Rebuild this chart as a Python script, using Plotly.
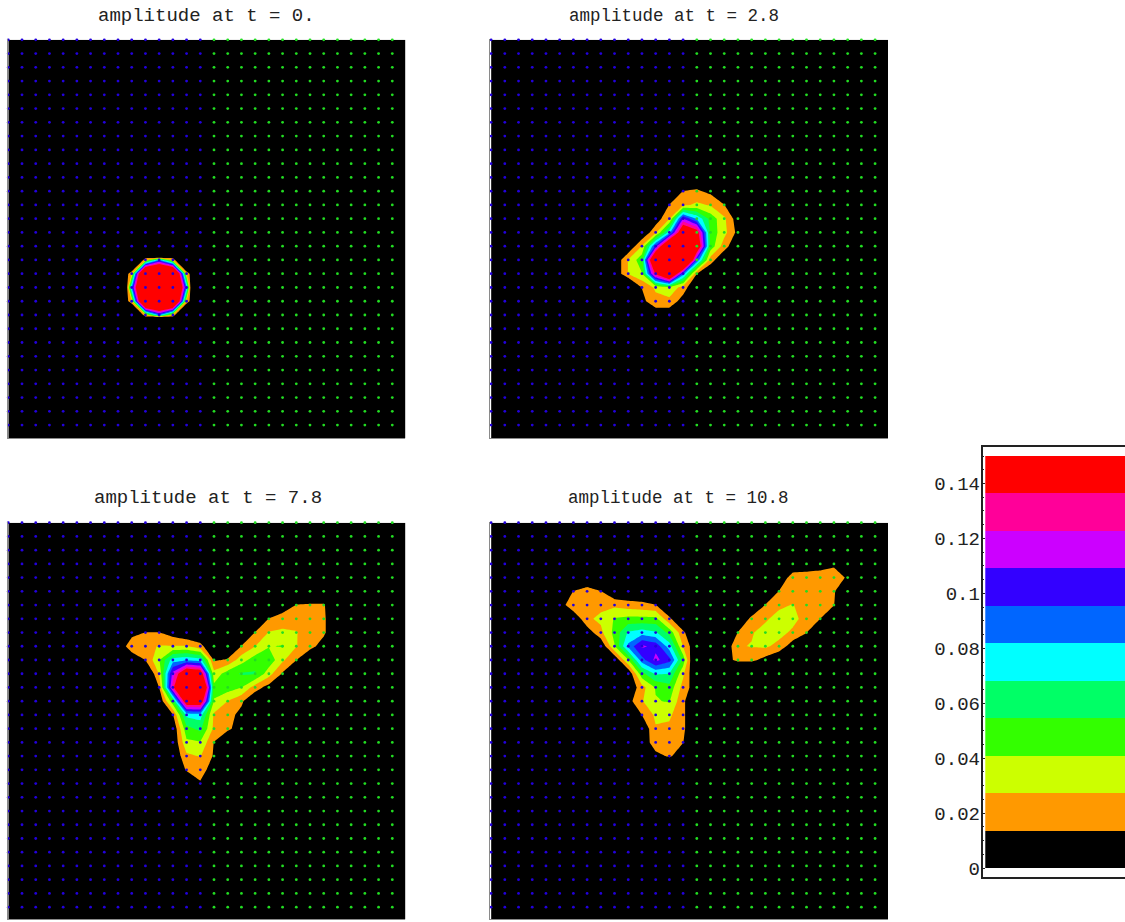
import numpy as np
import plotly.graph_objects as go

# grid
n_grid = 30
blue_cols = 15

# contour bands
band_colors = ["#000000", "#FF9900", "#CCFF00", "#33FF00", "#00FF66", "#00FFFF",
               "#0066FF", "#3300FF", "#CC00FF", "#FF0099", "#FF0000"]
z_top = 0.15
tick_vals = [0, 0.02, 0.04, 0.06, 0.08, 0.1, 0.12, 0.14]
tick_text = ["0", "0.02", "0.04", "0.06", "0.08", "0.1", "0.12", "0.14"]

titles = ["amplitude at t = 0.", "amplitude at t = 2.8", "amplitude at t = 7.8", "amplitude at t = 10.8"]

# amplitude patches: first column, first row, rows of values
t0_col, t0_row = 8, 15
t0_z = [
    [0, 0, -.07, -.36, -.07, 0, 0],
    [0, -.05, .026, .085, .026, -.05, 0],
    [-.023, .026, .24, .26, .24, .026, -.03],
    [-.13, .085, .26, .28, .26, .085, -.17],
    [-.023, .026, .24, .26, .24, .026, -.03],
    [0, -.05, .026, .085, .026, -.05, 0],
    [0, 0, -.08, -.39, -.08, 0, 0],
]

t1_col, t1_row = 8, 10
t1_z = [
    [0, 0, 0, 0, 0, 0, 0, 0, 0, 0, 0],
    [0, 0, 0, 0, 0, 0, .014, .016, .010, 0, 0],
    [0, 0, 0, 0, 0, .014, .024, .030, .026, .014, 0],
    [0, 0, 0, 0, .005, .026, .11, .08, .05, .03, .005],
    [0, 0, 0, 0, .024, .075, .17, .15, .05, .032, .009],
    [0, 0, 0, .028, .10, .20, .20, .17, .05, .02, 0],
    [0, 0, .028, .05, .20, .25, .25, .095, .02, 0, 0],
    [0, 0, .028, .04, .14, .20, .09, .014, 0, 0, 0],
    [0, 0, -.02, .014, .03, .04, .02, 0, 0, 0, 0],
    [0, 0, 0, .01, .022, .022, .008, 0, 0, 0, 0],
    [0, 0, 0, 0, .004, .004, 0, 0, 0, 0, 0],
]

t2_col, t2_row = 8, 5
t2_z = [
    [0, 0, 0, 0, 0, 0, 0, 0, 0, 0, 0, 0, 0, 0, 0, 0, 0],
    [0, 0, 0, 0, 0, 0, 0, 0, 0, 0, 0, 0, .005, .014, .015, .015, 0],
    [0, 0, 0, 0, 0, 0, 0, 0, 0, 0, 0, .014, .02, .022, .022, .016, 0],
    [0, .008, .014, .014, .007, 0, 0, 0, 0, 0, .014, .028, .03, .028, .02, .016, 0],
    [0, .024, .024, .028, .028, .028, .018, 0, 0, .014, .027, .04, .042, .028, .018, .008, 0],
    [0, 0, .0136, .04, .075, .08, .075, .012, .015, .035, .048, .05, .03, .014, 0, 0, 0],
    [0, 0, -.01, .028, .115, .17, .16, .032, .048, .056, .056, .033, .012, 0, 0, 0, 0],
    [0, 0, 0, .0136, .13, .22, .22, .045, .048, .041, .02, .008, 0, 0, 0, 0, 0],
    [0, 0, 0, 0, .05, .16, .16, .04, .027, .016, 0, 0, 0, 0, 0, 0, 0],
    [0, 0, 0, 0, .012, .072, .075, .025, .018, .01, 0, 0, 0, 0, 0, 0, 0],
    [0, 0, 0, 0, 0, .05, .058, .024, .016, .008, 0, 0, 0, 0, 0, 0, 0],
    [0, 0, 0, 0, 0, .038, .04, .013, 0, 0, 0, 0, 0, 0, 0, 0, 0],
    [0, 0, 0, 0, 0, .024, .028, .012, 0, 0, 0, 0, 0, 0, 0, 0, 0],
    [0, 0, 0, 0, 0, .015, .02, .006, 0, 0, 0, 0, 0, 0, 0, 0, 0],
    [0, 0, 0, 0, 0, 0, .012, 0, 0, 0, 0, 0, 0, 0, 0, 0, 0],
]

t3_col, t3_row = 5, 3
t3_z = [
    [0, 0, 0, 0, 0, 0, 0, 0, 0, 0, 0, 0, 0, 0, 0, 0, 0, 0, 0, .004, .01, 0],
    [0, 0, 0, 0, 0, 0, 0, 0, 0, 0, 0, 0, 0, 0, 0, 0, 0, .022, .024, .024, .024, .011],
    [0, .014, .02, .014, 0, 0, 0, 0, 0, 0, 0, 0, 0, 0, 0, 0, .014, .02, .02, .02, .015, 0],
    [.005, .025, .026, .024, .024, .02, .018, .014, 0, 0, 0, 0, 0, 0, 0, .014, .024, .028, .02, .018, .014, 0],
    [0, 0, .025, .03, .042, .045, .045, .045, .016, 0, 0, 0, 0, 0, .017, .025, .033, .033, .02, .0136, 0, 0],
    [0, 0, .005, .024, .045, .07, .075, .07, .05, .016, 0, 0, 0, .014, .026, .033, .033, .024, .014, 0, 0, 0],
    [0, 0, 0, 0, .04, .085, .112, .105, .075, .027, 0, 0, 0, .026, .028, .03, .022, .006, 0, 0, 0, 0],
    [0, 0, 0, 0, 0, .04, .09, .113, .10, .05, -.02, 0, .006, .018, .018, .008, 0, 0, 0, 0, 0, 0],
    [0, 0, 0, 0, 0, 0, .05, .07, .068, .03, -.005, 0, 0, -.02, -.02, 0, 0, 0, 0, 0, 0, 0],
    [0, 0, 0, 0, 0, 0, .022, .042, .05, .022, .004, 0, 0, 0, 0, 0, 0, 0, 0, 0, 0, 0],
    [0, 0, 0, 0, 0, .008, .026, .04, .042, .016, 0, 0, 0, 0, 0, 0, 0, 0, 0, 0, 0, 0],
    [0, 0, 0, 0, 0, 0, .0136, .03, .03, .016, 0, 0, 0, 0, 0, 0, 0, 0, 0, 0, 0, 0],
    [0, 0, 0, 0, 0, 0, 0, .026, .024, .016, 0, 0, 0, 0, 0, 0, 0, 0, 0, 0, 0, 0],
    [0, 0, 0, 0, 0, 0, 0, .024, .022, .014, 0, 0, 0, 0, 0, 0, 0, 0, 0, 0, 0, 0],
    [0, 0, 0, 0, 0, 0, 0, .008, .016, .004, 0, 0, 0, 0, 0, 0, 0, 0, 0, 0, 0, 0],
    [0, 0, 0, 0, 0, 0, 0, 0, -.01, 0, 0, 0, 0, 0, 0, 0, 0, 0, 0, 0, 0, 0],
]


def full_grid(col, row, rows):
    grid = np.zeros((n_grid, n_grid))
    block = np.array(rows, dtype=float)
    grid[row:row + block.shape[0], col:col + block.shape[1]] = block
    return grid


W, H = 1125, 922
n_bands = len(band_colors)
band_size = z_top / n_bands
scale = []
for k, c in enumerate(band_colors):
    scale += [[k / n_bands, c], [(k + 1) / n_bands, c]]

panels = [
    (7.6, 405.2, 39.3, 438.2, t0_col, t0_row, t0_z),
    (490.4, 888.0, 39.3, 438.2, t1_col, t1_row, t1_z),
    (7.6, 405.2, 521.7, 919.3, t2_col, t2_row, t2_z),
    (490.4, 888.0, 521.7, 919.3, t3_col, t3_row, t3_z),
]
title_px = [(206, 16, 19), (674, 16, 17.5), (208, 498, 19), (678, 498, 17.5)]

fig = go.Figure()
cols = np.arange(n_grid)
dx, dy = np.meshgrid(cols, cols)
is_blue = dx < blue_cols

layout = dict(width=W, height=H, margin=dict(l=0, r=0, t=0, b=0, pad=0), autosize=False,
              paper_bgcolor="white", plot_bgcolor="white", showlegend=False, annotations=[])

for p, (l, r, t, b, c0, r0, rows) in enumerate(panels):
    s = "" if p == 0 else str(p + 1)
    fig.add_trace(go.Contour(
        x=cols, y=cols, z=full_grid(c0, r0, rows), xaxis="x" + s, yaxis="y" + s,
        colorscale=scale, zauto=False, zmin=0, zmax=z_top, showscale=False,
        contours=dict(start=band_size, end=z_top - band_size, size=band_size,
                      coloring="fill", showlines=False),
        line=dict(width=0, smoothing=0), hoverinfo="skip"))
    fig.add_trace(go.Scatter(
        x=dx[is_blue], y=dy[is_blue], xaxis="x" + s, yaxis="y" + s, mode="markers",
        marker=dict(size=2.8, color="#2200dd", line=dict(width=0)), cliponaxis=False))
    fig.add_trace(go.Scatter(
        x=dx[~is_blue], y=dy[~is_blue], xaxis="x" + s, yaxis="y" + s, mode="markers",
        marker=dict(size=2.8, color="#22dd22", line=dict(width=0)), cliponaxis=False))
    px_per = (406.0 - 8.3) / (n_grid - 1)
    first_x = l + 0.7
    first_y = t + 0.5 if p < 2 else t + 1.0
    px_per_y = 13.76 if p < 2 else 13.73
    layout["xaxis" + s] = dict(domain=[l / W, r / W], anchor="y" + s, automargin=False,
                               range=[(l - first_x) / px_per, (r - first_x) / px_per],
                               showgrid=False, zeroline=False, showticklabels=False,
                               ticks="", showline=True, linecolor="#8a8a8a", linewidth=1)
    layout["yaxis" + s] = dict(domain=[1 - b / H, 1 - t / H], anchor="x" + s, automargin=False,
                               range=[(b - first_y) / px_per_y, (t - first_y) / px_per_y],
                               showgrid=False, zeroline=False, showticklabels=False,
                               ticks="", showline=True, linecolor="#8a8a8a", linewidth=1)
    layout["annotations"].append(dict(
        text=titles[p], x=title_px[p][0] / W, y=1 - title_px[p][1] / H, xref="paper", yref="paper",
        xanchor="center", yanchor="middle", showarrow=False,
        font=dict(family="Liberation Mono", size=title_px[p][2], color="#222222")))

# level key
edges = np.arange(n_bands + 1) * band_size
mids = (edges[:-1] + edges[1:]) / 2
fig.add_trace(go.Heatmap(x=[0, 1], y=edges, z=[[m] for m in mids], xaxis="x5", yaxis="y5",
                         colorscale=scale, zmin=0, zmax=z_top, showscale=False, hoverinfo="skip"))
y0_px, y_top_px = 868.0, 456.0
per = (y0_px - y_top_px) / z_top
f_t, f_b = 447.0, 877.0
layout["xaxis5"] = dict(domain=[982.5 / W, 1.0], anchor="y5", range=[-0.02, 1], automargin=False,
                        showgrid=False, zeroline=False, showticklabels=False, ticks="",
                        showline=True, mirror=True, linecolor="#222222", linewidth=1.5)
layout["yaxis5"] = dict(domain=[1 - f_b / H, 1 - f_t / H], anchor="x5", automargin=False,
                        range=[(y0_px - f_b) / per, (y0_px - f_t) / per],
                        tickmode="array", tickvals=tick_vals, ticktext=tick_text,
                        ticks="inside", ticklen=3, tickcolor="#222222", tickwidth=1,
                        ticklabelstandoff=-3,
                        tickfont=dict(family="Liberation Mono", size=19, color="#222222"),
                        minor=dict(dtick=0.005, ticks="inside", ticklen=2, tickcolor="#222222", tickwidth=1),
                        showgrid=False, zeroline=False, showline=True, linecolor="#222222", linewidth=1.5)

fig.update_layout(**layout)
fig.write_html("out.html", config={"displayModeBar": False},
               post_script="document.body.style.margin='0';document.documentElement.style.overflow='hidden';")
